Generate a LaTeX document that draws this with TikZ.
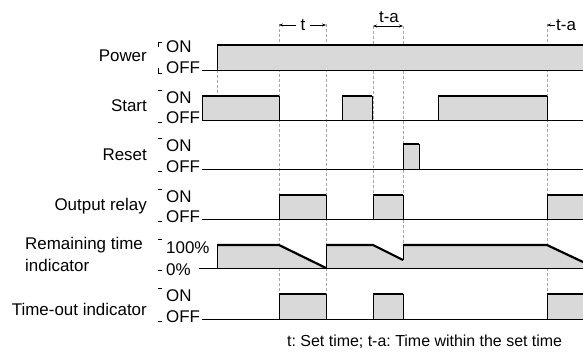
\documentclass[tikz,border=0pt]{standalone}
\usepackage{fontspec}
\setmainfont{Liberation Sans}
\frenchspacing
\usetikzlibrary{arrows.meta}
\tikzset{
  lbl/.style={inner sep=0pt,font=\fontsize{17}{20}\selectfont},
  note/.style={inner sep=0pt,font=\fontsize{16}{19}\selectfont},
  stip/.style={fill=black!15},
  edge/.style={line width=0.8bp},
  hi/.style={line width=2.2bp},
  base/.style={line width=0.8bp},
  guide/.style={line width=0.5bp,black!35,densely dashed},
  tick/.style={line width=0.6bp},
  dim/.style={line width=0.7bp,-{Stealth[length=4bp,width=3bp]}},
}
\newcommand\mypulse[4]{%
  \fill[stip] (#1,#4) rectangle (#2,#3);
  \draw[edge] (#1,#4) -- (#1,#3);
  \draw[edge] (#2,#3) -- (#2,#4);
  \draw[hi] (#1,#3) -- (#2,#3);
}
\begin{document}
\begin{tikzpicture}[x=1bp,y=-1bp]
\useasboundingbox (0,0) rectangle (583,356);

% guides
\draw[guide] (217,70) -- (217,96);
\draw[guide] (279,24) -- (279,320);
\draw[guide] (326,24) -- (326,320);
\draw[guide] (373,26) -- (373,220);
\draw[guide] (403,26) -- (403,246);
\draw[guide] (547,24) -- (547,320);

% row labels
\node[lbl,anchor=east] (lpow) at (147,56) {Power};
\node[lbl,anchor=east] (lsta) at (147,106) {Start};
\node[lbl,anchor=east] (lres) at (147,155) {Reset};
\node[lbl,anchor=east] (lout) at (147,206) {Output relay};
\node[lbl,anchor=west] (lrem1) at (25,245) {Remaining time};
\node[lbl,anchor=west] (lrem2) at (25,265) {indicator};
\node[lbl,anchor=east] (ltim) at (147,309) {Time-out indicator};

% level labels
\foreach \n/\on/\off in {pow/45/70, sta/96/120, res/144/169, out/195/219, tim/294/319}{
  \node[lbl,anchor=west] (on\n) at (166,\on+2) {ON};
  \node[lbl,anchor=west] (off\n) at (166,\off-2) {OFF};
}
\node[lbl,anchor=west] (onrem) at (166,248) {100\%};
\node[lbl,anchor=west] (offrem) at (166,270) {0\%};

% ticks
\draw[tick] (158,47) -- (158,42) -- (162,42);
\draw[tick] (158,68) -- (158,73) -- (162,73);
\foreach \a/\b in {96/120, 144/169, 195/219, 245/268, 294/319}{
  \draw[tick] (158,\a-6) -- (162,\a-6);
  \draw[tick] (158,\b+2) -- (162,\b+2);
}

% Power
\fill[stip] (217,45) rectangle (583,70);
\draw[base] (202,70) -- (583,70);
\draw[edge] (217,70) -- (217,45);
\draw[hi] (217,45) -- (583,45);

% Start
\draw[base] (202,120) -- (583,120);
\mypulse{202}{279}{96}{120}
\mypulse{342}{372}{96}{120}
\mypulse{438}{547}{96}{120}

% Reset
\draw[base] (202,169) -- (583,169);
\mypulse{403}{419}{144}{169}

% Output relay
\draw[base] (202,219) -- (583,219);
\mypulse{279}{326}{195}{219}
\mypulse{373}{403}{195}{219}
\mypulse{547}{584}{195}{219}

% Remaining time
\fill[stip] (217,268) -- (217,245) -- (279,245) -- (326,268) -- (326,245) -- (373,245)
  -- (403,260) -- (403,245) -- (547,245) -- (583,262) -- (583,268) -- cycle;
\draw[base] (199,268) -- (583,268);
\draw[edge] (217,268) -- (217,245);
\draw[edge] (326,268) -- (326,245);
\draw[edge] (403,260) -- (403,245);
\draw[hi] (217,245) -- (279,245) -- (326,268);
\draw[hi] (326,245) -- (373,245) -- (403,260);
\draw[hi] (403,245) -- (547,245) -- (583,262);

% Time-out indicator
\draw[base] (202,319) -- (583,319);
\mypulse{279}{326}{294}{319}
\mypulse{373}{403}{294}{319}
\mypulse{547}{584}{294}{319}

% annotations
\node[lbl] (tt) at (303,25) {t};
\coordinate (tl) at (279,25);
\coordinate (tr) at (326,25);
\draw[dim] (tt.west) ++(-4,0) -- (tl);
\draw[dim] (tt.east) ++(4,0) -- (tr);
\node[lbl] (ta1) at (389,17) {t-a};
\coordinate (ta1l) at (373,26);
\coordinate (ta1r) at (403,26);
\draw[line width=0.7bp,{Stealth[length=4bp,width=3bp]}-{Stealth[length=4bp,width=3bp]}] (ta1l) -- (ta1r);
\node[lbl,anchor=west] (ta2) at (556,25) {t-a};
\coordinate (ta2l) at (547,25);
\draw[dim] (ta2.west) ++(-1,0) -- (ta2l);

% footnote
\node[note,anchor=west] (note) at (287,342) {t: Set time; t-a: Time within the set time};
\end{tikzpicture}
\end{document}
